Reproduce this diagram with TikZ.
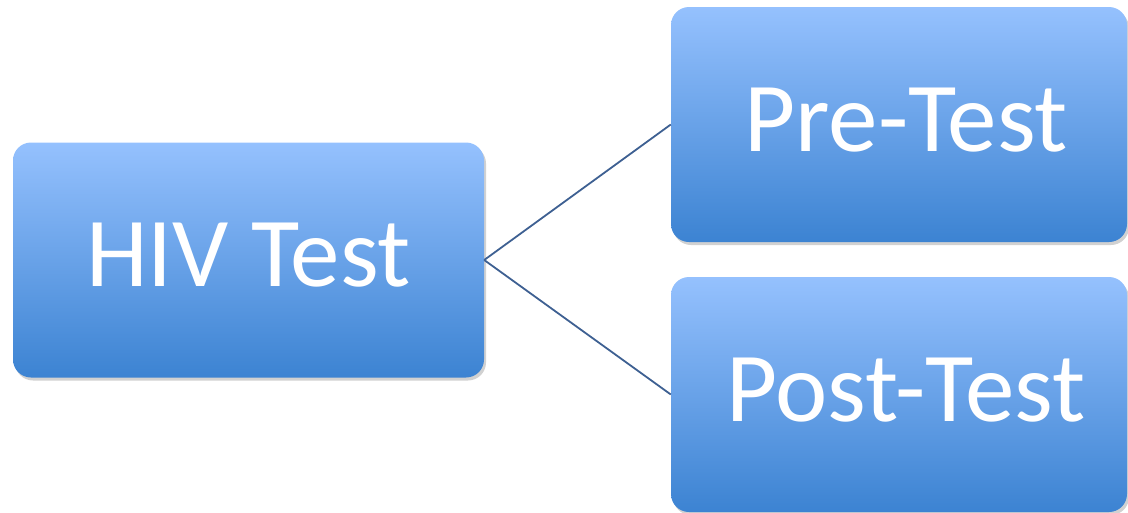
\documentclass[tikz,border=0pt]{standalone}
\usepackage{fontspec}
\newfontfamily\boxfont{Carlito}
\usepackage{xcolor}
\usepackage{tikz}
\usetikzlibrary{positioning,shadows}

\definecolor{boxtop}{RGB}{149,193,254}
\definecolor{boxmid}{RGB}{132,181,246}
\definecolor{boxbot}{RGB}{60,131,210}
\definecolor{linkblue}{RGB}{62,96,146}

\begin{document}
\begin{tikzpicture}[
  x=1pt, y=-1pt,
  font=\boxfont\fontsize{99}{112}\selectfont,
  box/.style={rectangle, rounded corners=18pt, text=white, inner sep=0pt,
    minimum height=235pt, shading=axis, top color=boxtop, middle color=boxmid,
    bottom color=boxbot, drop shadow={shadow xshift=2pt, shadow yshift=-3pt, opacity=0.18, fill=black}},
  link/.style={draw=linkblue, line width=1.8pt}
]
\useasboundingbox (0,0) rectangle (1128,512);
\node[box, minimum width=471pt] (hiv) at (248.5,260) {\raisebox{10pt}{HIV Test}};
\node[box, minimum width=456pt] (pre) at (899,124.5) {\hspace*{14pt}\raisebox{10pt}{Pre-Test}};
\node[box, minimum width=456pt] (post) at (899,394.5) {\hspace*{14pt}\raisebox{9pt}{Post-Test}};
\draw[link] (hiv.east) -- (pre.west);
\draw[link] (hiv.east) -- (post.west);
\end{tikzpicture}
\end{document}
